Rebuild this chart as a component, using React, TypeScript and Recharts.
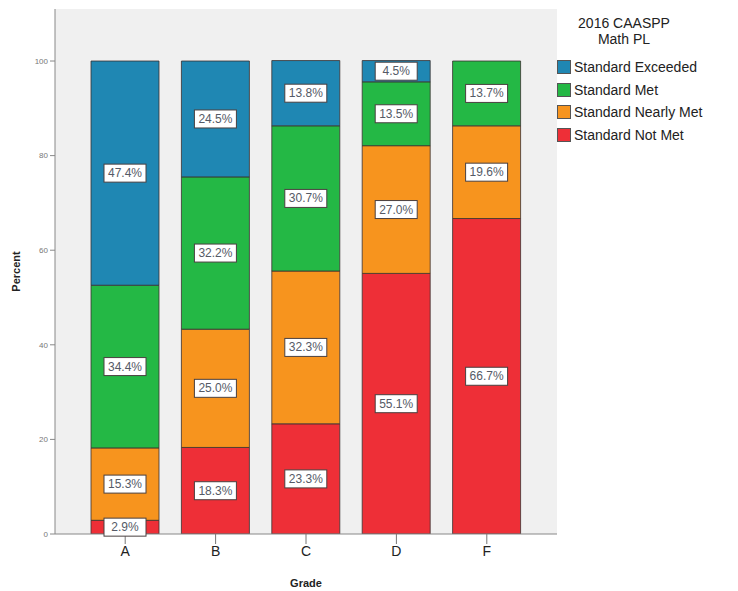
import React from 'react';
import { BarChart, Bar, XAxis, YAxis, LabelList, CartesianGrid } from 'recharts';

const grades = ['A', 'B', 'C', 'D', 'F'];
const notMet = [2.9, 18.3, 23.3, 55.1, 66.7];
const nearlyMet = [15.3, 25.0, 32.3, 27.0, 19.6];
const met = [34.4, 32.2, 30.7, 13.5, 13.7];
const exceeded = [47.4, 24.5, 13.8, 4.5, 0];
const yTicks = [0, 20, 40, 60, 80, 100];

const legendTitle = ['2016 CAASPP', 'Math PL'];
const series = [
  { key: 'notMet', name: 'Standard Not Met', color: '#ee2f37' },
  { key: 'nearlyMet', name: 'Standard Nearly Met', color: '#f7941e' },
  { key: 'met', name: 'Standard Met', color: '#24b845' },
  { key: 'exceeded', name: 'Standard Exceeded', color: '#1f87b3' },
];

const data = grades.map((g, i) => ({
  grade: g,
  notMet: notMet[i],
  nearlyMet: nearlyMet[i],
  met: met[i],
  exceeded: exceeded[i],
}));

const FONT = 'Arial, "Liberation Sans", sans-serif';

const BoxLabel = (props: any) => {
  const { x, y, width, height, value } = props;
  if (!value) return null;
  const cx = Number(x) + Number(width) / 2;
  const cy = Number(y) + Number(height) / 2;
  const w = 42;
  const h = 18;
  return (
    <g>
      <rect x={cx - w / 2} y={cy - h / 2} width={w} height={h} fill="#ffffff" stroke="#4a4040" strokeWidth={1} />
      <text x={cx} y={cy + 4} textAnchor="middle" fontFamily={FONT} fontSize={12} fill="#555a66">
        {`${Number(value).toFixed(1)}%`}
      </text>
    </g>
  );
};

const LegendBlock = () => (
  <div style={{ position: 'absolute', left: 557, top: 15, width: 180, fontFamily: FONT, color: '#222' }}>
    <div style={{ textAlign: 'center', fontSize: 14, lineHeight: '16px', width: 134 }}>
      {legendTitle.map((t) => (
        <div key={t}>{t}</div>
      ))}
    </div>
    <div style={{ marginTop: 9 }}>
      {[...series].reverse().map((s) => (
        <div key={s.key} style={{ display: 'flex', alignItems: 'center', height: 22.5, fontSize: 14 }}>
          <span style={{ display: 'inline-block', width: 14, height: 14, background: s.color, border: '1px solid #555', boxSizing: 'border-box', marginRight: 3 }} />
          <span>{s.name}</span>
        </div>
      ))}
    </div>
  </div>
);

export default function App() {
  return (
    <div style={{ position: 'absolute', left: 0, top: 0, width: 738, height: 591, background: '#fff' }}>
      <BarChart
        width={738}
        height={591}
        data={data}
        margin={{ top: 9, right: 181, bottom: 0, left: 0 }}
        barSize={68}
      >
        <CartesianGrid horizontal={false} vertical={false} fill="#f0f0f0" />
        <XAxis
          dataKey="grade"
          height={57}
          padding={{ left: 25, right: 25 }}
          tickSize={10}
          tickLine={{ stroke: '#777' }}
          axisLine={{ stroke: '#888' }}
          tick={{ fontFamily: FONT, fontSize: 14, fill: '#222' }}
          label={{ value: 'Grade', position: 'insideBottom', offset: 4, style: { fontFamily: FONT, fontSize: 11, fontWeight: 'bold', fill: '#222' } }}
        />
        <XAxis xAxisId="top" orientation="top" dataKey="grade" height={0} tick={false} tickLine={false} axisLine={{ stroke: '#999' }} />
        <YAxis
          width={55}
          domain={[0, 111]}
          ticks={yTicks}
          allowDataOverflow
          tickSize={5}
          tickLine={{ stroke: '#888' }}
          axisLine={{ stroke: '#888' }}
          tick={{ fontFamily: FONT, fontSize: 8, fill: '#777' }}
          label={{ value: 'Percent', angle: -90, position: 'insideLeft', offset: 16, style: { textAnchor: 'middle', fontFamily: FONT, fontSize: 11, fontWeight: 'bold', fill: '#222' } }}
        />
        <YAxis yAxisId="right" orientation="right" width={0} domain={[0, 111]} tick={false} tickLine={false} axisLine={{ stroke: '#999' }} />
        {series.map((s) => (
          <Bar
            key={s.key}
            dataKey={s.key}
            name={s.name}
            stackId="a"
            fill={s.color}
            stroke="#3a3030"
            strokeWidth={0.8}
            isAnimationActive={false}
          >
            <LabelList dataKey={s.key} content={<BoxLabel />} />
          </Bar>
        ))}
      </BarChart>
      <LegendBlock />
    </div>
  );
}
